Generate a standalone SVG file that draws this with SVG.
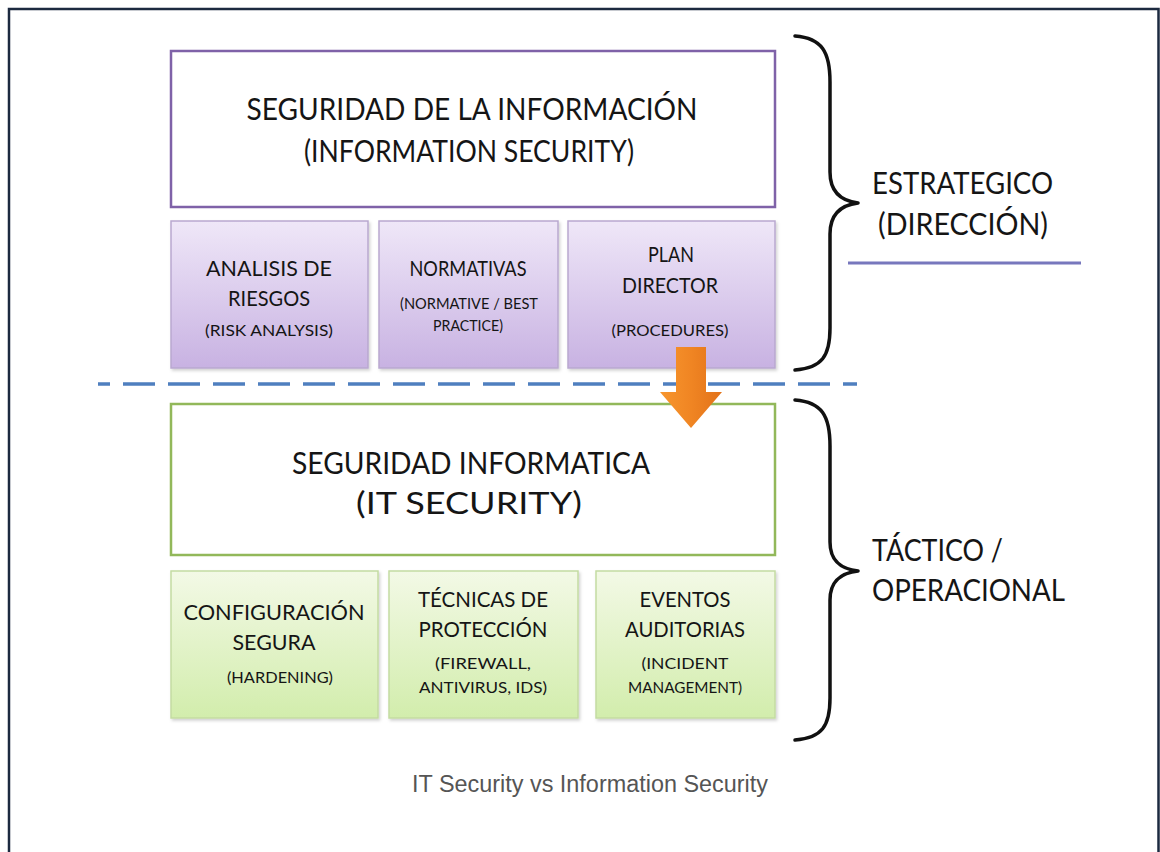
<svg xmlns="http://www.w3.org/2000/svg" width="1160" height="852" viewBox="0 0 1160 852">
  <style>
    .t { font-family: Lato, "Open Sans", "Liberation Sans", sans-serif; fill: #151515; text-anchor: middle; }
    .big { font-size: 30px; }
    .mid { font-size: 22px; }
    .sml { font-size: 15px; }
    .side { font-size: 30px; text-anchor: start; }
    .cap { font-family: "Liberation Sans", Arial, sans-serif; font-size: 23px; fill: #555; text-anchor: middle; }
    .brace { fill: none; stroke: #111; stroke-width: 3.5; stroke-linecap: round; stroke-linejoin: round; }
    .sub-p { fill: url(#gPurple); stroke: #b9a8cf; stroke-width: 1.5; filter: url(#shadow); }
    .sub-g { fill: url(#gGreen); stroke: #c4dba2; stroke-width: 1.5; filter: url(#shadow); }
  </style>
  <defs>
    <linearGradient id="gPurple" x1="0" y1="0" x2="0" y2="1">
      <stop offset="0" stop-color="#efe7f8"/>
      <stop offset="1" stop-color="#c8b2e2"/>
    </linearGradient>
    <linearGradient id="gGreen" x1="0" y1="0" x2="0" y2="1">
      <stop offset="0" stop-color="#f3f9e6"/>
      <stop offset="1" stop-color="#d2edac"/>
    </linearGradient>
    <linearGradient id="gOrange" x1="0" y1="0" x2="1" y2="0">
      <stop offset="0" stop-color="#f7962e"/>
      <stop offset="0.5" stop-color="#f08523"/>
      <stop offset="1" stop-color="#e27219"/>
    </linearGradient>
    <filter id="shadow" x="-5%" y="-5%" width="112%" height="112%">
      <feDropShadow dx="1.5" dy="2" stdDeviation="1.5" flood-color="#000" flood-opacity="0.18"/>
    </filter>
  </defs>

  <rect width="1160" height="852" fill="#fff"/>

  <!-- outer frame (open at the bottom) -->
  <path d="M9,852 L9,9 L1158.5,9 L1158.5,852" fill="none" stroke="#1c2a40" stroke-width="2.5"/>

  <!-- strategic layer -->
  <g id="info-security">
    <rect x="171" y="51" width="604" height="156" fill="#fff" stroke="#7f62a8" stroke-width="2.5"/>
    <text class="t big" x="472" y="120" textLength="451" lengthAdjust="spacingAndGlyphs">SEGURIDAD DE LA INFORMACIÓN</text>
    <text class="t big" x="469" y="162" textLength="330" lengthAdjust="spacingAndGlyphs">(INFORMATION SECURITY)</text>
  </g>

  <g id="risk-analysis">
    <rect class="sub-p" x="171" y="221" width="197" height="147"/>
    <text class="t mid" x="269" y="276" textLength="126" lengthAdjust="spacingAndGlyphs">ANALISIS DE</text>
    <text class="t mid" x="269" y="306" textLength="82" lengthAdjust="spacingAndGlyphs">RIESGOS</text>
    <text class="t sml" x="269" y="336" textLength="128" lengthAdjust="spacingAndGlyphs">(RISK ANALYSIS)</text>
  </g>

  <g id="normativas">
    <rect class="sub-p" x="379" y="221" width="179" height="147"/>
    <text class="t mid" x="468" y="276" textLength="117" lengthAdjust="spacingAndGlyphs">NORMATIVAS</text>
    <text class="t sml" x="469" y="309" textLength="138" lengthAdjust="spacingAndGlyphs">(NORMATIVE / BEST</text>
    <text class="t sml" x="468" y="331" textLength="70" lengthAdjust="spacingAndGlyphs">PRACTICE)</text>
  </g>

  <g id="plan-director">
    <rect class="sub-p" x="568" y="221" width="207" height="147"/>
    <text class="t mid" x="671" y="262" textLength="46" lengthAdjust="spacingAndGlyphs">PLAN</text>
    <text class="t mid" x="670" y="293" textLength="96" lengthAdjust="spacingAndGlyphs">DIRECTOR</text>
    <text class="t sml" x="670" y="336" textLength="117" lengthAdjust="spacingAndGlyphs">(PROCEDURES)</text>
  </g>

  <!-- operational layer -->
  <g id="it-security">
    <rect x="171" y="404" width="604" height="151" fill="#fff" stroke="#92b85a" stroke-width="2.5"/>
    <text class="t big" x="471" y="474" textLength="358" lengthAdjust="spacingAndGlyphs">SEGURIDAD INFORMATICA</text>
    <text class="t big" x="469" y="514" font-size="32" textLength="226" lengthAdjust="spacingAndGlyphs">(IT SECURITY)</text>
  </g>

  <g id="configuracion">
    <rect class="sub-g" x="171" y="571" width="207" height="147"/>
    <text class="t mid" x="274" y="620" textLength="181" lengthAdjust="spacingAndGlyphs">CONFIGURACIÓN</text>
    <text class="t mid" x="274" y="650" textLength="83" lengthAdjust="spacingAndGlyphs">SEGURA</text>
    <text class="t sml" x="280" y="683" textLength="106" lengthAdjust="spacingAndGlyphs">(HARDENING)</text>
  </g>

  <g id="tecnicas">
    <rect class="sub-g" x="389" y="571" width="189" height="147"/>
    <text class="t mid" x="483" y="607" textLength="130" lengthAdjust="spacingAndGlyphs">TÉCNICAS DE</text>
    <text class="t mid" x="483" y="637" textLength="129" lengthAdjust="spacingAndGlyphs">PROTECCIÓN</text>
    <text class="t sml" x="483" y="669" textLength="96" lengthAdjust="spacingAndGlyphs">(FIREWALL,</text>
    <text class="t sml" x="483" y="693" textLength="128" lengthAdjust="spacingAndGlyphs">ANTIVIRUS, IDS)</text>
  </g>

  <g id="eventos">
    <rect class="sub-g" x="596" y="571" width="179" height="147"/>
    <text class="t mid" x="685" y="607" textLength="91" lengthAdjust="spacingAndGlyphs">EVENTOS</text>
    <text class="t mid" x="685" y="637" textLength="120" lengthAdjust="spacingAndGlyphs">AUDITORIAS</text>
    <text class="t sml" x="685" y="669" textLength="87" lengthAdjust="spacingAndGlyphs">(INCIDENT</text>
    <text class="t sml" x="685" y="693" textLength="114" lengthAdjust="spacingAndGlyphs">MANAGEMENT)</text>
  </g>

  <!-- side labels -->
  <g id="label-estrategico">
    <text class="t side" x="872" y="194" textLength="181" lengthAdjust="spacingAndGlyphs">ESTRATEGICO</text>
    <text class="t side" x="878" y="235" textLength="170" lengthAdjust="spacingAndGlyphs">(DIRECCIÓN)</text>
    <line x1="848" y1="263" x2="1081" y2="263" stroke="#7777bd" stroke-width="3"/>
  </g>

  <g id="label-tactico">
    <text class="t side" x="872" y="561" textLength="131" lengthAdjust="spacingAndGlyphs">TÁCTICO /</text>
    <text class="t side" x="872" y="601" textLength="193" lengthAdjust="spacingAndGlyphs">OPERACIONAL</text>
  </g>

  <!-- connectors: braces, divider and flow arrow -->
  <g id="connectors">
    <path class="brace" d="M795,36 C822,38 830,52 830,82 L830,172 C830,193 842,201 858,203 C842,205 830,213 830,234 L830,328 C830,356 822,368 795,370"/>
    <path class="brace" d="M795,400 C822,402 830,416 830,446 L830,542 C830,562 842,569 858,571 C842,573 830,580 830,600 L830,698 C830,726 822,738 795,740"/>
    <line x1="98" y1="384" x2="857" y2="384" stroke="#4f7fbf" stroke-width="3.5" stroke-dasharray="32 13" stroke-dashoffset="20"/>
    <polygon points="676,347 706,347 706,392 722,392 691,428 660,392 676,392" fill="url(#gOrange)"/>
  </g>

  <text class="cap" x="590" y="792" textLength="356" lengthAdjust="spacingAndGlyphs">IT Security vs Information Security</text>
</svg>
